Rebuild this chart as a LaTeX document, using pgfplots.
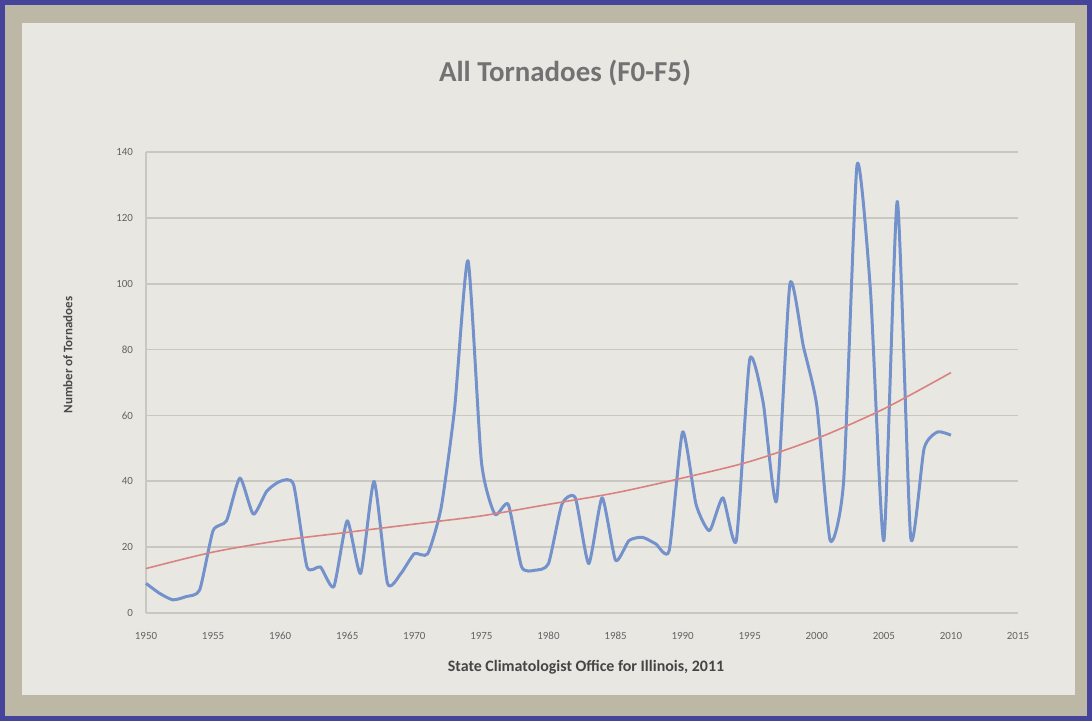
\documentclass[border=0pt]{standalone}
\usepackage{pgfplots}
\pgfplotsset{compat=1.18}
\usepackage{fontspec}
\setmainfont{Carlito}
\definecolor{frameblue}{HTML}{45449A}
\definecolor{framebeige}{HTML}{BDB8A6}
\definecolor{paper}{HTML}{E9E7E2}
\definecolor{lineblue}{HTML}{7391CA}
\definecolor{trendred}{HTML}{D98282}
\definecolor{gridgray}{HTML}{C9C7C2}
\definecolor{txtgray}{HTML}{636363}
\pgfplotstableread{
year count
1950 9
1951 6
1952 4
1953 5
1954 7
1955 25
1956 28
1957 41
1958 30
1959 37
1960 40
1961 39
1962 14
1963 14
1964 8
1965 28
1966 12
1967 40
1968 9
1969 12
1970 18
1971 18
1972 32
1973 62
1974 107
1975 46
1976 30
1977 33
1978 14
1979 13
1980 15
1981 33
1982 35
1983 15
1984 35
1985 16
1986 22
1987 23
1988 21
1989 19
1990 55
1991 33
1992 25
1993 35
1994 22
1995 77
1996 64
1997 34
1998 100
1999 81
2000 63
2001 22
2002 40
2003 136
2004 98
2005 22
2006 125
2007 23
2008 50
2009 55
2010 54
}\tornadoes
\pgfplotstableread{
year trend
1950 13.5
1955 18.5
1960 22
1965 24.5
1970 27
1975 29.5
1980 33
1985 36.5
1990 41
1995 46
2000 53
2005 62
2010 73
}\trend
\begin{document}
\begin{tikzpicture}[x=1bp,y=1bp]
% photo background: frame and paper
\fill[frameblue] (0,0) rectangle (546,360.5);
\fill[framebeige] (2.5,2.5) rectangle (543.5,358);
\fill[paper] (11,13) rectangle (537.5,349);
% title and labels
\node[font=\fontsize{14.5}{16}\selectfont\bfseries, text=txtgray!90] at (282.5,324) {All Tornadoes (F0-F5)};
\node[font=\fontsize{8}{10}\selectfont\bfseries, text=txtgray!70!black] at (293,27) {State Climatologist Office for Illinois, 2011};
\node[font=\fontsize{6.5}{8}\selectfont\bfseries, text=txtgray!75!black, rotate=90] at (34,183) {Number of Tornadoes};
\begin{axis}[
  at={(73bp,54bp)}, anchor=south west,
  scale only axis,
  width=436bp, height=230.5bp,
  xmin=1950, xmax=2015, ymin=0, ymax=140,
  xtick={1950,1955,...,2015},
  ytick={0,20,...,140},
  xticklabel style={/pgf/number format/1000 sep={}},
  /pgf/number format/assume math mode=true,
  ticklabel style={font=\fontsize{5.5}{6}\selectfont, text=txtgray},
  ymajorgrids,
  grid style={gridgray, line width=0.8pt},
  axis x line*=bottom, axis y line*=left,
  axis line style={gridgray, line width=0.8pt},
  x axis line style={-}, y axis line style={-},
  tick style={draw=none},
  xticklabel shift=6bp, yticklabel shift=3bp,
  clip=false,
]
\addplot[lineblue, line width=1.5pt, line join=round, smooth, tension=0.35] table[x=year, y=count] {\tornadoes};
\addplot[trendred, line width=0.8pt, smooth] table[x=year, y=trend] {\trend};
\end{axis}
\end{tikzpicture}
\end{document}
